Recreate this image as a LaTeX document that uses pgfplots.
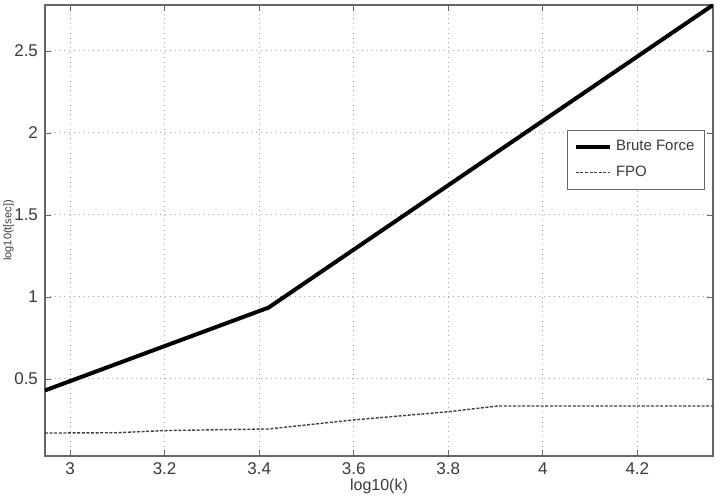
\documentclass[border=0pt]{standalone}
\usepackage{pgfplots}
\pgfplotsset{compat=1.18}
\usepackage{fontspec}
\setmainfont{Liberation Sans}
\usetikzlibrary{calc}
\definecolor{txt}{HTML}{3A3A3A}
\definecolor{frame}{HTML}{666666}
\begin{document}
\begin{tikzpicture}
\begin{axis}[
  name=ax,
  scale only axis,
  width=334pt, height=225.5pt,
  xmin=2.947, xmax=4.36,
  ymin=0.03, ymax=2.78,
  xtick={3,3.2,3.4,3.6,3.8,4,4.2},
  ytick={0.5,1,1.5,2,2.5},
  xticklabels={3,3.2,3.4,3.6,3.8,4,4.2},
  yticklabels={0.5,1,1.5,2,2.5},
  tick align=inside,
  major tick length=3pt,
  tick style={frame, line width=0.4pt},
  axis line style={frame, line width=0.8pt},
  grid=major,
  major grid style={gray!70, dotted, line width=0.5pt},
  ticklabel style={font=\fontsize{8.5}{10}\selectfont, text=txt},
  xlabel={log10(k)},
  ylabel={log10(t[sec])},
  xlabel style={font=\fontsize{8}{9}\selectfont, text=txt, yshift=5pt},
  ylabel style={font=\fontsize{5.5}{6}\selectfont, text=txt, at={(rel axis cs:0,0.5)}, anchor=north, yshift=21.5pt, inner sep=0.5pt},
  legend style={at={(rel axis cs:0.988,0.723)}, anchor=north east,
    font=\fontsize{7.5}{9}\selectfont, text=txt, draw=frame, line width=0.6pt,
    row sep=2pt, inner xsep=3pt, inner ysep=3pt},
  legend cell align=left,
]
\addplot[black, line width=2pt] coordinates {
(2.947,0.43) (3.42,0.935) (4.36,2.78)
};
\addlegendentry{Brute Force}
\addplot[black!75, line width=0.7pt, dash pattern=on 1.5pt off 0.8pt] coordinates {
(2.947,0.17) (3.1,0.172) (3.2,0.185) (3.42,0.195) (3.6,0.25) (3.8,0.3) (3.905,0.335) (4.36,0.335)
};
\addlegendentry{FPO}
\end{axis}
\pgfresetboundingbox
\path ($(ax.south west)+(-22.5pt,-19.5pt)$) rectangle ($(ax.north east)+(5.5pt,2.5pt)$);
\end{tikzpicture}
\end{document}
